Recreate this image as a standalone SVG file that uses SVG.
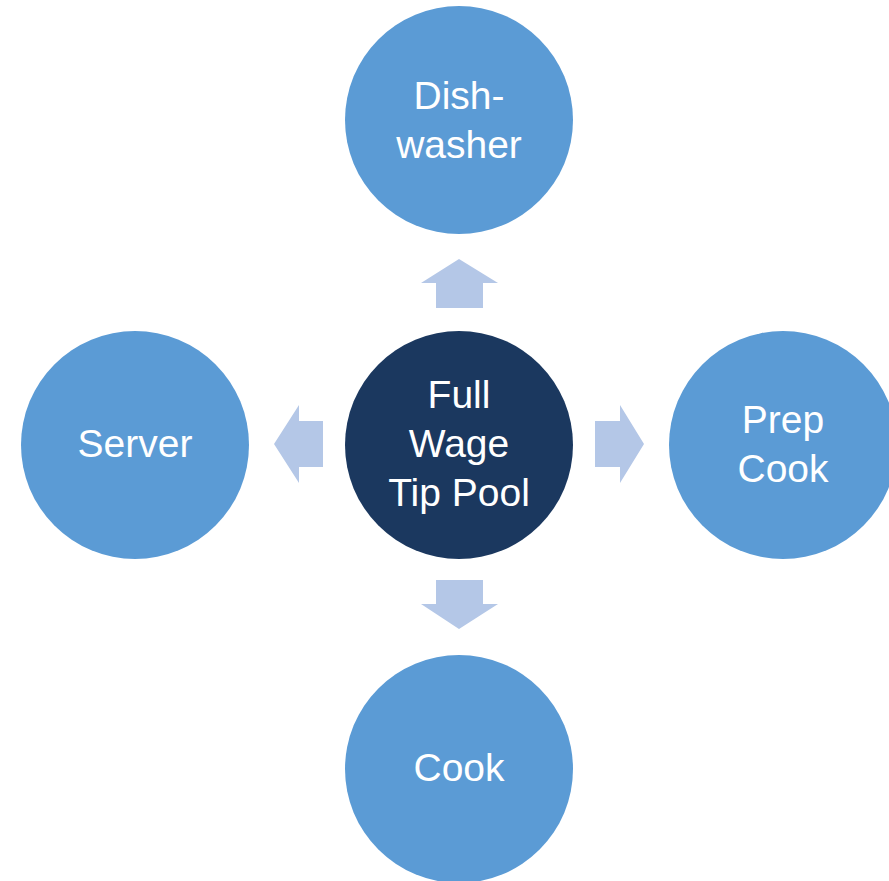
<svg xmlns="http://www.w3.org/2000/svg" width="889" height="881" viewBox="0 0 889 881">
  <style>
    .outer { fill: #5B9BD5; }
    .hub { fill: #1B385F; }
    .arrow { fill: #B4C7E7; }
    .label { fill: #FFFFFF; font-family: "Liberation Sans", Arial, sans-serif; font-size: 39px; text-anchor: middle; }
  </style>
  <rect width="889" height="881" fill="#FFFFFF"/>

  <!-- arrows radiating from the hub -->
  <g id="connectors">
    <polygon class="arrow" points="459,259 498,283 483,283 483,308 436,308 436,283 421,283"/>
    <polygon class="arrow" points="459,629 498,604 483,604 483,580 436,580 436,604 421,604"/>
    <polygon class="arrow" points="274,444 299,405 299,421 323,421 323,467 299,467 299,483"/>
    <polygon class="arrow" points="644,444 620,405 620,421 595,421 595,467 620,467 620,483"/>
  </g>

  <g id="hub">
    <circle class="hub" cx="459" cy="445" r="114"/>
    <text class="label" x="459" y="408">Full</text>
    <text class="label" x="459" y="457">Wage</text>
    <text class="label" x="459" y="506">Tip Pool</text>
  </g>

  <g id="dishwasher">
    <circle class="outer" cx="459" cy="120" r="114"/>
    <text class="label" x="459" y="109">Dish-</text>
    <text class="label" x="459" y="158">washer</text>
  </g>

  <g id="server">
    <circle class="outer" cx="135" cy="445" r="114"/>
    <text class="label" x="135" y="457">Server</text>
  </g>

  <g id="prep-cook">
    <circle class="outer" cx="783" cy="445" r="114"/>
    <text class="label" x="783" y="433">Prep</text>
    <text class="label" x="783" y="482">Cook</text>
  </g>

  <g id="cook">
    <circle class="outer" cx="459" cy="769" r="114"/>
    <text class="label" x="459" y="781">Cook</text>
  </g>
</svg>
